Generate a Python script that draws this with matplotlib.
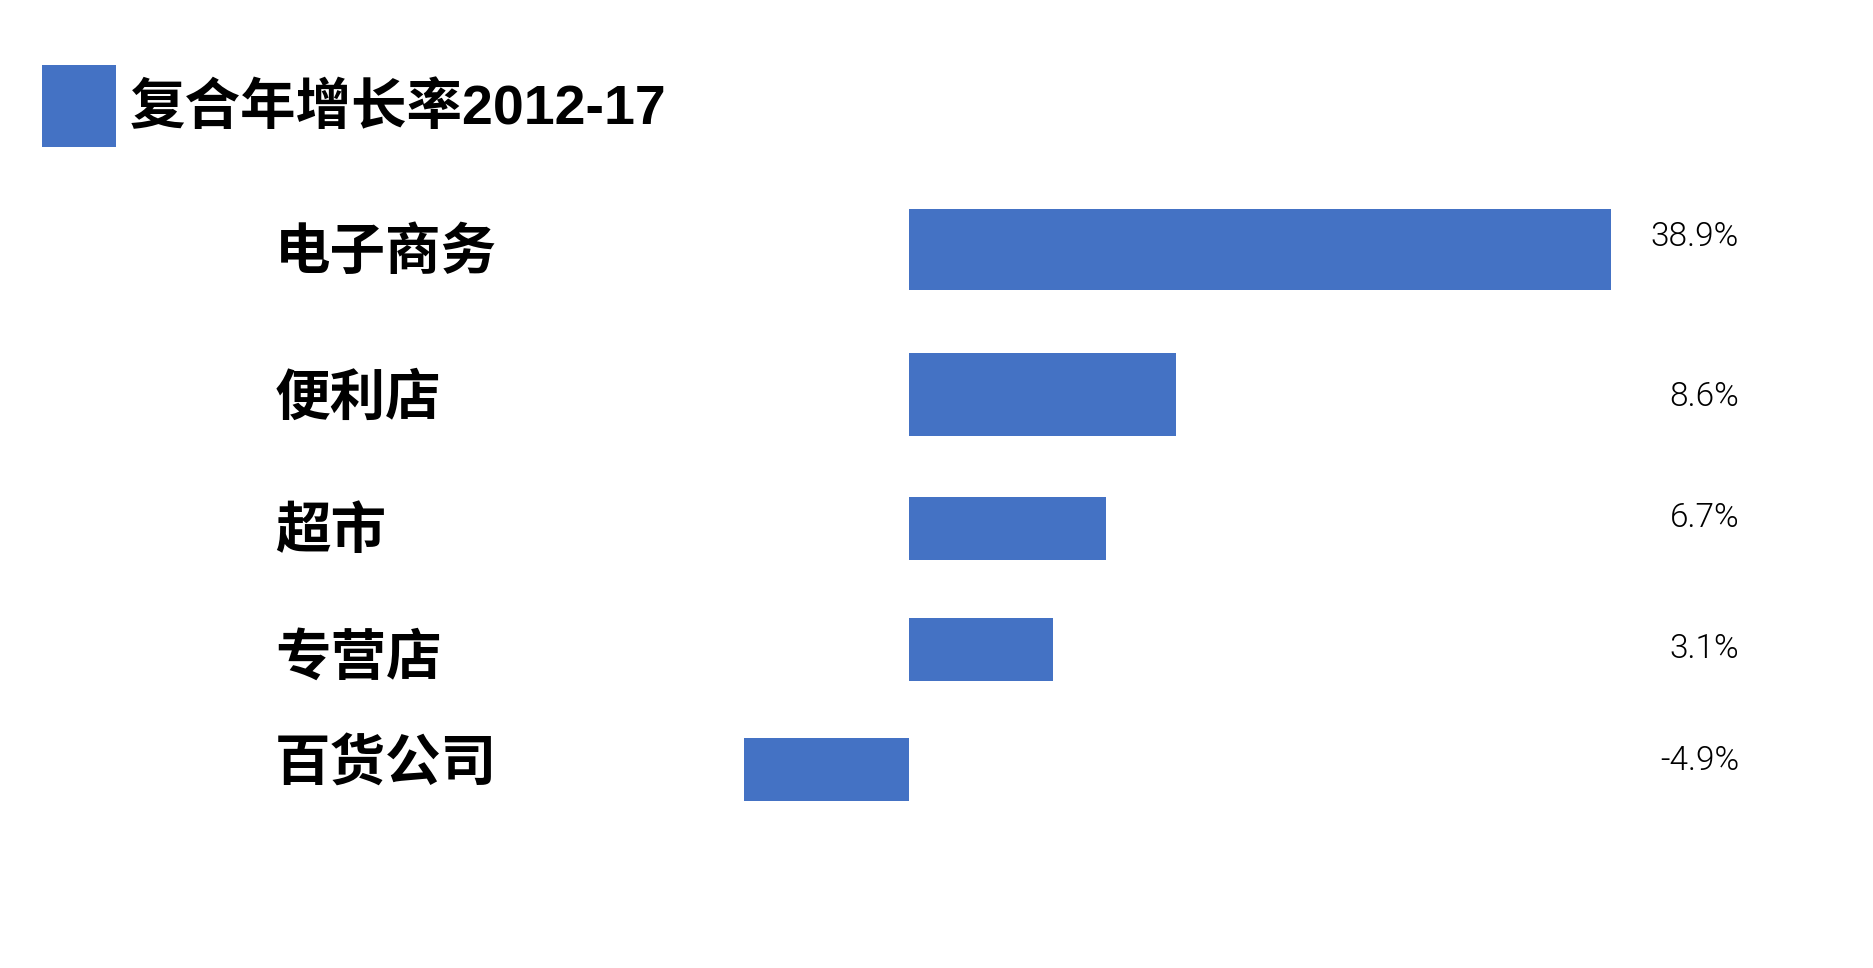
import matplotlib
matplotlib.use("Agg")
import matplotlib.pyplot as plt
from matplotlib.patches import Patch
from matplotlib.transforms import blended_transform_factory
from matplotlib.font_manager import FontProperties

plt.rcParams['font.family'] = ['Noto Sans CJK SC', 'DejaVu Sans']

# data
categories = ["电子商务", "便利店", "超市", "专营店", "百货公司"]
value_labels = ["38.9%", "8.6%", "6.7%", "3.1%", "-4.9%"]
# drawn bar lengths (not proportional to the values in the source chart)
bar_lengths = [702, 267, 197, 144, -165]
legend_label = "复合年增长率2012-17"

# layout
row_pos = [0, 1.115, 2.146, 3.077, 4.0]
bar_heights = [0.623, 0.638, 0.485, 0.485, 0.485]
label_dy = [3, 4, 4, 9, -6]        # px nudges for category labels
value_dy = [-12, 3, -10, -1, -9]   # px nudges for value labels
blue = "#4472C4"
W, H = 1873, 968
ROW_PX = 130


def main():
    fig = plt.figure(figsize=(W / 100, H / 100), dpi=100)
    ax = fig.add_axes([0, 0, 1, 1])
    ax.axis("off")

    ax.barh(row_pos, bar_lengths, height=bar_heights, color=blue)
    ax.set_xlim(-909, W - 909)
    ax.set_ylim((H - 249.5) / ROW_PX, -249.5 / ROW_PX)

    trans = blended_transform_factory(fig.transFigure, ax.transData)
    for i, (cat, val) in enumerate(zip(categories, value_labels)):
        y = row_pos[i]
        ax.text(275 / W, y + label_dy[i] / ROW_PX, cat, transform=trans,
                ha="left", va="center", fontsize=40, fontweight="bold",
                color="black")
        ax.text(1739 / W, y + value_dy[i] / ROW_PX, val, transform=trans,
                ha="right", va="center", fontsize=24, fontweight=300,
                color="black", family=['Roboto', 'DejaVu Sans'])

    title_font = FontProperties(family=['Liberation Sans', 'Noto Sans CJK SC'],
                                weight="bold", size=40)
    handle = Patch(facecolor=blue, edgecolor="none")
    fig.legend([handle], [legend_label], loc="center left",
               bbox_to_anchor=(42 / W, 1 - 106 / H), frameon=False,
               prop=title_font, handlelength=1.33, handleheight=1.89,
               handletextpad=0.24, borderpad=0, borderaxespad=0)

    fig.savefig("out.png", dpi=100, facecolor="white")


if __name__ == "__main__":
    main()
